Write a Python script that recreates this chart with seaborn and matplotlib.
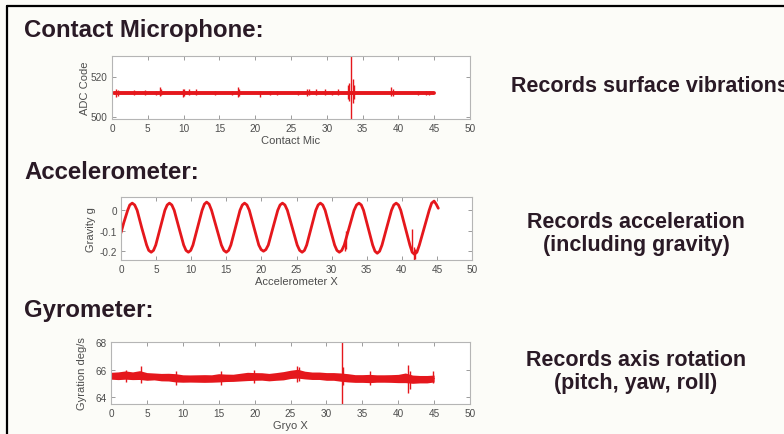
import pandas as pd
import matplotlib.pyplot as plt
import seaborn as sns
from matplotlib.lines import Line2D

# ---- data ----
# Contact microphone: flat baseline plus short bursts (time, low, high)
mic_time = [0.3, 45.0]
mic_level = [512, 512]
mic_burst_t = [0.6, 0.8, 3.1, 4.6, 6.1, 6.7, 6.9, 9.9, 10.1, 10.8, 11.8, 14.4, 16.8,
               17.6, 17.7, 20.7, 22.0, 23.0, 26.0, 27.3, 27.5, 28.5, 29.7, 30.7, 31.5,
               32.9, 33.1, 33.4, 33.6, 33.8, 39.0, 39.2, 42.7, 43.9, 44.3]
mic_burst_lo = [510, 510.5, 511, 511, 511, 510.5, 511, 510, 510.5, 511, 511, 511, 511,
                510, 510.5, 510, 511, 511, 511, 510.5, 511, 511, 511, 511, 511,
                509, 508, 490, 507, 509, 510.5, 510.5, 511, 511, 511]
mic_burst_hi = [514, 513.5, 513.5, 513.5, 513, 515, 514, 514, 514, 514, 514, 513, 513,
                515, 514, 513, 513, 513, 513, 514, 514, 514, 514, 513, 514,
                516, 517, 535, 519, 516, 515, 514, 513, 513, 513]

# Accelerometer X (g)
acc_time = [0.0, 0.4, 0.95, 1.25, 1.6,
            1.95, 2.3, 2.95, 3.65, 3.95, 4.3,
            4.63, 4.95, 5.6, 6.25, 6.58, 6.9,
            7.24, 7.58, 8.25, 8.93, 9.26, 9.6,
            9.93, 10.25, 10.9, 11.55, 11.88, 12.2,
            12.55, 12.9, 13.6, 14.3, 14.65, 15.0,
            15.33, 15.65, 16.3, 16.95, 17.28, 17.6,
            17.94, 18.28, 18.95, 19.63, 19.96, 20.3,
            20.64, 20.98, 21.65, 22.33, 22.66, 23.0,
            23.35, 23.7, 24.4, 25.1, 25.45, 25.8,
            26.13, 26.45, 27.1, 27.75, 28.08, 28.4,
            28.74, 29.08, 29.75, 30.43, 30.76, 31.1,
            31.45, 31.8, 32.5, 33.2, 33.55, 33.9,
            34.23, 34.55, 35.2, 35.85, 36.18, 36.5,
            36.84, 37.18, 37.85, 38.53, 38.86, 39.2,
            39.53, 39.85, 40.5, 41.15, 41.48, 41.8,
            42.15, 42.5, 43.2, 43.9, 44.25, 44.6,
            44.9, 45.2]
acc_g = [-0.11, -0.06, 0.0, 0.026, 0.035,
         0.026, 0.0, -0.085, -0.17, -0.196, -0.205,
         -0.196, -0.17, -0.085, 0.0, 0.026, 0.035,
         0.026, 0.0, -0.085, -0.17, -0.196, -0.205,
         -0.196, -0.17, -0.085, 0.0, 0.03, 0.04,
         0.03, 0.0, -0.085, -0.17, -0.196, -0.205,
         -0.196, -0.17, -0.085, 0.0, 0.026, 0.035,
         0.026, 0.0, -0.085, -0.17, -0.192, -0.2,
         -0.192, -0.17, -0.085, 0.0, 0.026, 0.035,
         0.026, 0.0, -0.085, -0.17, -0.196, -0.205,
         -0.196, -0.17, -0.085, 0.0, 0.026, 0.035,
         0.026, 0.0, -0.085, -0.17, -0.196, -0.205,
         -0.196, -0.17, -0.085, 0.0, 0.026, 0.035,
         0.026, 0.0, -0.085, -0.17, -0.2, -0.21,
         -0.2, -0.17, -0.085, 0.0, 0.026, 0.035,
         0.026, 0.0, -0.085, -0.17, -0.205, -0.215,
         -0.205, -0.17, -0.085, 0.0, 0.035, 0.045,
         0.03, 0.01]
acc_burst_t = [31.9, 32.1, 41.5, 41.7, 41.9]
acc_burst_lo = [-0.2, -0.19, -0.2, -0.243, -0.24]
acc_burst_hi = [-0.15, -0.1, -0.09, -0.18, -0.19]

# Gyrometer X (deg/s): centre line and noise half-width per second
gyro_time = [0, 1, 2, 3, 4, 5, 6, 7, 8, 9, 10, 11, 12, 13, 14, 15, 16, 17, 18, 19, 20, 21, 22,
             23, 24, 25, 26, 27, 28, 29, 30, 31, 32, 33, 34, 35, 36, 37, 38, 39, 40, 41, 42,
             43, 44, 45]
gyro_mid = [65.55, 65.55, 65.6, 65.55, 65.6, 65.5, 65.5, 65.45, 65.45, 65.4, 65.35, 65.35,
            65.35, 65.35, 65.35, 65.4, 65.4, 65.4, 65.45, 65.5, 65.5, 65.5, 65.45, 65.5,
            65.55, 65.65, 65.7, 65.6, 65.55, 65.55, 65.5, 65.5, 65.45, 65.4, 65.35, 65.35,
            65.35, 65.35, 65.35, 65.35, 65.35, 65.4, 65.3, 65.3, 65.3, 65.35]
gyro_spread = [0.25, 0.28, 0.3, 0.28, 0.32, 0.28, 0.25, 0.27, 0.28, 0.3, 0.27, 0.26, 0.27,
               0.28, 0.27, 0.3, 0.27, 0.26, 0.28, 0.3, 0.28, 0.27, 0.27, 0.28, 0.3, 0.3,
               0.32, 0.28, 0.27, 0.27, 0.28, 0.28, 0.3, 0.3, 0.28, 0.28, 0.3, 0.27, 0.27,
               0.28, 0.3, 0.35, 0.3, 0.27, 0.27, 0.25]
gyro_burst_t = [2.1, 4.2, 9.0, 15.3, 19.9, 25.9, 26.2, 32.2, 32.3, 36.1, 41.4, 41.6, 44.9]
gyro_burst_lo = [65.1, 65.0, 64.9, 64.9, 65.0, 65.1, 65.2, 63.4, 64.9, 64.9, 64.3, 64.6, 65.0]
gyro_burst_hi = [66.0, 66.25, 65.9, 65.9, 66.0, 66.25, 66.2, 68.0, 66.2, 65.9, 66.3, 65.9, 65.9]

BG = '#fcfcf8'
RED = '#e5171c'
INK = '#2a1a26'
TICK = '#4d4d4d'

sns.set_style('white')
plt.rcParams['font.family'] = ['Liberation Sans', 'DejaVu Sans']

W, H = 784, 435
fig = plt.figure(figsize=(W / 100, H / 100), dpi=100, facecolor=BG)


def px(x, y):
    return x / W, 1 - y / H


def make_axes(x0, y0, x1, y1):
    ax = fig.add_axes([x0 / W, 1 - y1 / H, (x1 - x0) / W, (y1 - y0) / H])
    ax.set_facecolor('white')
    for s in ax.spines.values():
        s.set_color('#b5b5b5')
        s.set_linewidth(0.8)
    ax.tick_params(direction='in', length=3, width=0.6, color='#8c8c8c',
                   labelsize=7.2, labelcolor=TICK, pad=3,
                   top=True, right=True, bottom=True, left=True)
    ax.set_xlim(0, 50)
    ax.set_xticks([0, 5, 10, 15, 20, 25, 30, 35, 40, 45, 50])
    return ax


# slide frame
fig.add_artist(Line2D([7 / W, 1], [1 - 7 / H, 1 - 7 / H], color='black', lw=1.6,
                      transform=fig.transFigure))
fig.add_artist(Line2D([7 / W, 7 / W], [0, 1 - 7 / H], color='black', lw=1.6,
                      transform=fig.transFigure))

# ---- Contact microphone ----
ax1 = make_axes(112, 57, 470, 120)
sns.lineplot(x=mic_time, y=mic_level, ax=ax1, color=RED, lw=2.8)
ax1.vlines(mic_burst_t, mic_burst_lo, mic_burst_hi, color=RED, lw=1)
ax1.set_ylim(498.75, 530.25)
ax1.set_yticks([500, 520])
ax1.set_xlabel('Contact Mic', fontsize=8, color=TICK, labelpad=1)
ax1.set_ylabel('ADC Code', fontsize=8, color=TICK)
ax1.yaxis.set_label_coords(-0.062, 0.5)

# ---- Accelerometer ----
ax2 = make_axes(121, 198, 472, 261)
sns.lineplot(x=acc_time, y=acc_g, ax=ax2, color=RED, lw=2.0, sort=False)
ax2.vlines(acc_burst_t, acc_burst_lo, acc_burst_hi, color=RED, lw=1)
ax2.set_ylim(-0.243, 0.065)
ax2.set_yticks([-0.2, -0.1, 0])
ax2.set_yticklabels(['-0.2', '-0.1', '0'])
ax2.set_xlabel('Accelerometer X', fontsize=8, color=TICK, labelpad=1)
ax2.set_ylabel('Gravity g', fontsize=8, color=TICK)
ax2.yaxis.set_label_coords(-0.072, 0.5)

# ---- Gyrometer ----
ax3 = make_axes(111, 343, 470, 405)
gy = pd.DataFrame({'t': gyro_time, 'mid': gyro_mid, 'w': gyro_spread})
ax3.fill_between(gy['t'], gy['mid'] - gy['w'], gy['mid'] + gy['w'], color=RED, lw=0)
sns.lineplot(data=gy, x='t', y='mid', ax=ax3, color=RED, lw=1)
ax3.vlines(gyro_burst_t, gyro_burst_lo, gyro_burst_hi, color=RED, lw=1)
ax3.set_ylim(63.5, 68)
ax3.set_yticks([64, 66, 68])
ax3.set_xlabel('Gryo X', fontsize=8, color=TICK, labelpad=1)
ax3.set_ylabel('Gyration deg/s', fontsize=8, color=TICK)
ax3.yaxis.set_label_coords(-0.066, 0.5)

# ---- slide text ----
head = dict(fontsize=17.3, fontweight='bold', color=INK, va='center', ha='left')
fig.text(*px(24, 31), 'Contact Microphone:', **head)
fig.text(*px(24, 173), 'Accelerometer:', **head)
fig.text(*px(24, 310), 'Gyrometer:', **head)

note = dict(fontsize=15.5, fontweight='bold', color=INK, va='center', ha='center',
            linespacing=1.1)
fig.text(*px(511, 87), 'Records surface vibrations', fontsize=15.5, fontweight='bold',
         color=INK, va='center', ha='left')
fig.text(*px(636, 234), 'Records acceleration\n(including gravity)', **note)
fig.text(*px(636, 372), 'Records axis rotation\n(pitch, yaw, roll)', **note)

fig.savefig('out.png', dpi=100, facecolor=BG)
